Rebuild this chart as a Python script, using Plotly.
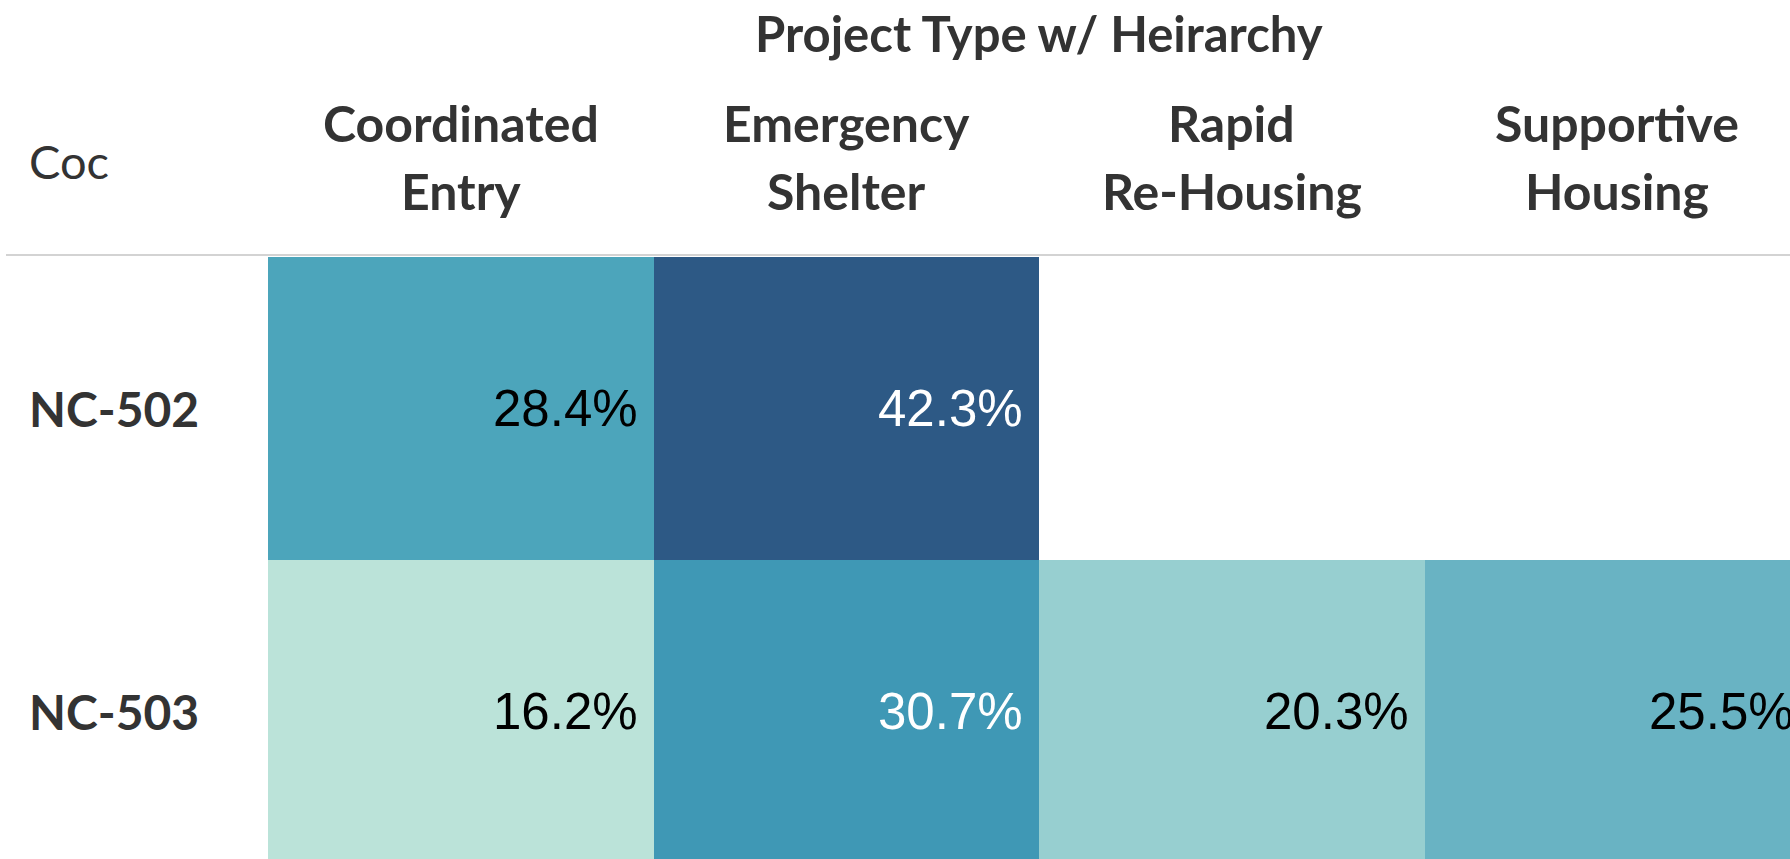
import plotly.graph_objects as go

# ---- data ----
title_text = "Project Type w/ Heirarchy"
row_header = "Coc"
coc = ["NC-502", "NC-503"]
header_line1 = ["Coordinated", "Emergency", "Rapid", "Supportive"]
header_line2 = ["Entry", "Shelter", "Re-Housing", "Housing"]
nc502_pct = [28.4, 42.3, None, None]
nc503_pct = [16.2, 30.7, 20.3, 25.5]

z = [nc502_pct, nc503_pct]
xs = list(range(len(header_line1)))
ys = list(range(len(coc)))

W, H = 1790, 859
L, T = 268, 257
plot_w = W - L
plot_h = H - T
col_px = 385.5
row_px = 303.0
x_lo, x_hi = -0.5, -0.5 + plot_w / col_px


def py(p):
    """pixel (from top) -> paper y"""
    return (H - p) / plot_h


def px(p):
    """pixel (from left) -> paper x"""
    return (p - L) / plot_w


def xdata_to_paper(v):
    return (v - x_lo) / (x_hi - x_lo)


colorscale = [
    [0.0, "#bbe3d9"],
    [0.157, "#97cfd0"],
    [0.356, "#69b3c3"],
    [0.467, "#4ca5bb"],
    [0.556, "#3f98b5"],
    [1.0, "#2d5985"],
]

fig = go.Figure(
    go.Heatmap(
        z=z, x=xs, y=ys,
        colorscale=colorscale, zmin=16.2, zmax=42.3,
        showscale=False, hoverinfo="skip",
    )
)

annotations = []
LABEL_COLOR = "#333333"
HFONT = dict(family="Lato", size=50, color=LABEL_COLOR)
# title
annotations.append(dict(
    text="<b>" + title_text + "</b>", xref="x", yref="paper",
    x=(len(header_line1) - 1) / 2, y=py(33),
    xanchor="center", yanchor="middle", showarrow=False,
    font=dict(family="Lato", size=49, color=LABEL_COLOR),
))
# row header
annotations.append(dict(
    text=row_header, xref="paper", yref="paper",
    x=px(27), y=py(161),
    xanchor="left", yanchor="middle", showarrow=False,
    font=dict(family="Lato", size=47, color=LABEL_COLOR),
))
# column headers (two lines each)
for i in xs:
    annotations.append(dict(
        text="<b>" + header_line1[i] + "</b>", xref="x", yref="paper",
        x=i, y=py(123), xanchor="center", yanchor="middle",
        showarrow=False, font=HFONT,
    ))
    annotations.append(dict(
        text="<b>" + header_line2[i] + "</b>", xref="x", yref="paper",
        x=i, y=py(191), xanchor="center", yanchor="middle",
        showarrow=False, font=HFONT,
    ))
# row labels
for j, name in enumerate(coc):
    annotations.append(dict(
        text="<b>" + name + "</b>", xref="paper", yref="y",
        x=px(27), y=j,
        xanchor="left", yanchor="middle", showarrow=False,
        font=dict(family="Lato", size=48, color=LABEL_COLOR),
    ))
# cell values (right aligned in each cell)
for j, row in enumerate(z):
    for i, v in enumerate(row):
        if v is None:
            continue
        annotations.append(dict(
            text=f"{v:.1f}%", xref="paper", yref="y",
            x=xdata_to_paper(i + 0.5), y=j, xshift=-14,
            xanchor="right", yanchor="middle", showarrow=False,
            font=dict(family="Liberation Sans", size=51,
                      color="#ffffff" if v > 30 else "#000000"),
        ))

fig.update_layout(
    width=W, height=H,
    margin=dict(l=L, r=0, t=T, b=0),
    paper_bgcolor="white", plot_bgcolor="white",
    xaxis=dict(range=[x_lo, x_hi], visible=False, fixedrange=True),
    yaxis=dict(range=[-0.5 + plot_h / row_px, -0.5], visible=False, fixedrange=True),
    annotations=annotations,
    shapes=[dict(
        type="line", xref="paper", yref="paper",
        x0=px(6), x1=1.0,
        y0=py(255), y1=py(255),
        line=dict(color="#d3d3d3", width=2),
    )],
    showlegend=False,
)

fig.write_html(
    "out.html",
    config={"displayModeBar": False},
    post_script="document.body.style.margin='0';document.body.style.overflow='hidden';",
)
